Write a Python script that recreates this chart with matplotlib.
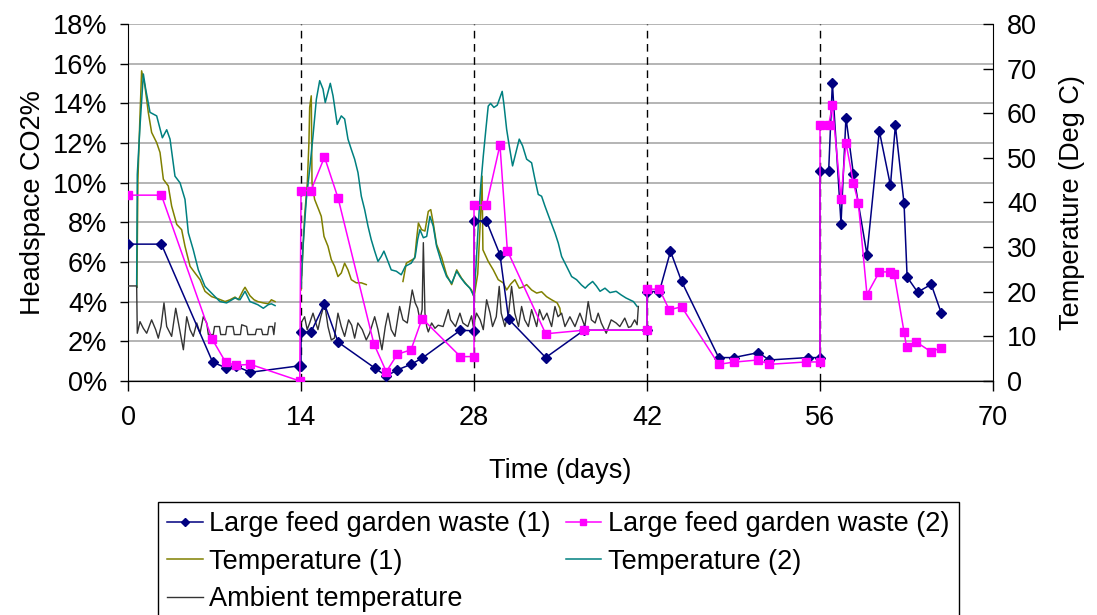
import numpy as np
import matplotlib
matplotlib.use('Agg')
import matplotlib.pyplot as plt

nan = float('nan')

# headspace CO2 (%) for the two large-feed reactors
co2_1_days = [0, 2.7, 6.85, 7.9, 8.7, 9.9, 13.8, 14.0, 14.0, 14.8, 15.9, 17.0, 20.0, 20.9, 21.8, 22.9, 23.8,
              26.9, 28.0, 28.0, 29.0, 30.1, 30.8, 33.8, 36.9, 42.0, 42.0, 43.0, 43.9, 44.8, 47.8, 49.0, 51.0,
              51.9, 55.0, 56.0, 56.0, 56.7, 57.0, 57.7, 58.1, 58.7, 59.8, 60.8, 61.7, 62.1, 62.8, 63.05, 63.9,
              65.0, 65.8]
co2_1 = [6.9, 6.9, 0.95, 0.67, 0.76, 0.44, 0.76, 0.76, 2.46, 2.46, 3.88, 1.96, 0.64, 0.25, 0.56, 0.84, 1.15,
         2.56, 2.53, 8.07, 8.07, 6.37, 3.12, 1.18, 2.56, 2.56, 4.51, 4.51, 6.54, 5.02, 1.18, 1.18, 1.43,
         1.06, 1.18, 1.18, 10.58, 10.58, 15.03, 7.94, 13.28, 10.45, 6.37, 12.6, 9.86, 12.89, 8.96, 5.24, 4.48,
         4.87, 3.45]

co2_2_days = [0, 2.7, 6.8, 7.9, 8.7, 9.9, 13.9, 14.0, 14.8, 15.9, 17.0, 19.9, 20.9, 21.8, 22.9, 23.8,
              26.9, 28.0, 28.0, 29.0, 30.1, 30.7, 33.8, 36.9, 42.0, 42.0, 43.0, 43.8, 44.8, 47.8, 49.0, 51.0,
              51.9, 54.9, 56.0, 56.0, 56.7, 57.0, 57.7, 58.1, 58.7, 59.1, 59.8, 60.8, 61.7, 62.0, 62.8, 63.0,
              63.8, 65.0, 65.8]
co2_2 = [9.37, 9.37, 2.12, 0.95, 0.79, 0.84, 0.0, 9.6, 9.6, 11.29, 9.22, 1.87, 0.47, 1.35, 1.57, 3.15,
         1.23, 1.23, 8.86, 8.86, 11.9, 6.57, 2.38, 2.56, 2.56, 4.63, 4.63, 3.59, 3.74, 0.84, 0.95, 1.06,
         0.84, 0.96, 0.96, 12.89, 12.89, 13.9, 9.2, 12.02, 9.99, 8.98, 4.36, 5.5, 5.5, 5.39, 2.48, 1.73,
         1.96, 1.47, 1.68]

# reactor temperatures (deg C), nan marks a logging gap
temp_1_days = [0.72, 0.80, 0.95, 1.10, 1.37, 1.64, 1.91, 2.32, 2.59, 2.86, 3.26, 3.53, 3.94, 4.34, 4.61,
               5.02, 5.42, 5.83, 6.23, 6.77, 7.31, 7.85, 8.25, 8.66, 8.93, 9.33, 9.47, 9.87, 10.2, 10.5,
               10.95, 11.35, 11.6, 11.9, nan,
               14.0, 14.29, 14.51, 14.64, 14.70, 14.83, 14.89, 15.10, 15.43, 15.64, 15.86, 16.18, 16.45,
               16.72, 16.99, 17.26, 17.53, 17.80, 18.07, 18.47, 18.88, 19.28, nan,
               22.25, 22.52, 23.20, 23.35, 23.50, 23.76, 24.03, 24.30, 24.50, 24.70, 24.97, 25.38, 25.78,
               26.19, 26.60, 27.00, 27.40, 27.80, 28.00, 28.30, 28.55, 28.65, 28.72, 29.15, 29.56, 29.96,
               30.36, 30.64, 30.96, 31.31, 31.66, 32.00, 32.26, 32.66, 33.07, 33.47, 33.87, 34.28, 34.73,
               34.95, 35.00]
temp_1 = [21.0, 45.0, 58.0, 69.5, 66.1, 60.2, 55.7, 53.4, 51.2, 45.2, 43.7, 39.2, 35.1, 33.9, 30.2,
          25.7, 24.2, 22.7, 20.1, 18.9, 18.4, 17.8, 18.2, 18.8, 18.2, 20.4, 21.0, 19.1, 18.2, 17.8,
          17.5, 17.3, 18.2, 17.8, nan,
          20.4, 36.9, 44.4, 53.4, 61.3, 63.9, 44.4, 40.7, 38.4, 36.9, 32.4, 30.2, 27.2,
          25.7, 23.4, 24.2, 26.4, 24.9, 22.7, 22.0, 22.0, 21.6, nan,
          22.3, 26.4, 27.5, 31.7, 35.4, 33.9, 33.6, 38.0, 38.4, 35.4, 30.6, 27.7, 23.8,
          21.6, 24.9, 23.0, 21.6, 20.4, 18.8, 24.0, 38.0, 45.9, 29.4, 26.8, 24.9, 22.7,
          22.0, 20.4, 21.7, 22.7, 20.8, 21.1, 21.6, 20.4, 19.7, 20.0, 18.9, 18.2, 17.5,
          16.3, 15.1]

temp_2_days = [0.70, 0.75, 0.97, 1.24, 1.43, 1.78, 2.32, 2.78, 3.13, 3.40, 3.80, 4.21, 4.61, 4.88, 5.28,
               5.69, 6.23, 6.90, 7.44, 7.98, 8.66, 9.06, 9.47, 9.87, 10.5, 10.95, 11.35, 11.6, 11.9, nan,
               14.0, 14.16, 14.43, 14.70, 14.97, 15.24, 15.51, 15.78, 15.96, 16.37, 16.59, 16.93, 17.26,
               17.53, 17.80, 18.07, 18.34, 18.61, 18.88, 19.15, 19.42, 19.68, 19.96, 20.23, 20.49, 20.71,
               20.98, 21.30, 21.71, 22.11, 22.44, 22.92, 23.24, 23.44, 23.62, 23.90, 24.17, 24.43, 24.70,
               24.97, 25.38, 25.78, 26.19, 26.60, 26.86, 27.27, 27.67, 27.94, 28.0, 28.16, 28.34, 28.54,
               28.75, 28.96, 29.15, 29.34, 29.61, 29.88, 30.15, 30.28, 30.42, 30.64, 30.85, 31.12, 31.39,
               31.66, 31.93, 32.26, 32.66, 32.93, 33.20, 33.47, 33.74, 34.14, 34.55, 34.82, 35.09, 35.49,
               35.90, 36.30, 36.70, 37.00, 37.24, 37.60, 37.90, 38.20, 38.60, 39.00, 39.50, 39.90, 40.30,
               40.90, 41.20]
temp_2 = [21.0, 46.3, 57.1, 68.8, 65.4, 60.2, 59.4, 54.5, 56.3, 54.2, 45.9, 44.4, 40.7, 33.2, 29.4,
          24.9, 21.2, 19.3, 17.8, 17.5, 18.6, 18.2, 20.1, 17.8, 17.1, 16.3, 17.1, 17.3, 16.9, nan,
          21.0, 30.2, 40.7, 47.4, 54.9, 63.1, 67.3, 65.4, 62.4, 66.7, 63.9, 57.5, 59.4,
          58.7, 54.2, 51.9, 49.7, 46.7, 41.4, 38.4, 34.7, 31.7, 29.1, 26.8, 27.9, 29.1,
          27.2, 24.9, 24.6, 23.8, 25.7, 26.4, 27.9, 31.7, 33.9, 32.1, 32.4, 36.9, 34.7,
          30.2, 26.4, 23.4, 21.9, 24.6, 23.4, 21.9, 20.8, 19.3, 18.9, 25.7, 34.7, 43.7,
          50.4, 56.4, 61.6, 62.2, 61.3, 61.8, 63.9, 64.9, 62.0, 56.4, 52.7, 48.2, 51.2,
          54.2, 52.7, 49.7, 48.9, 45.2, 41.8, 41.4, 39.2, 36.2, 33.2, 30.9, 27.9, 25.7,
          23.4, 22.7, 21.5, 20.8, 21.5, 22.3, 21.3, 20.1, 20.8, 19.8, 20.1, 19.3, 18.6,
          17.8, 16.7]

ambient_days = [0.0, 0.70, 0.75, 0.97, 1.24, 1.51, 1.91, 2.24, 2.45, 2.67, 2.91, 3.13, 3.53, 3.86, 4.13,
                4.48, 4.75, 5.02, 5.28, 5.56, 5.83, 6.09, 6.37, 6.5, 6.9, 7.0, 7.4, 7.5, 7.9, 8.0, 8.5,
                8.6, 9.1, 9.2, 9.6, 9.7, 10.3, 10.4, 10.8, 10.9, 11.3, 11.4, 11.7, 11.8, 11.9, nan,
                14.0, 14.29, 14.50, 14.70, 14.97, 15.20, 15.37, 15.60, 15.91, 16.18, 16.45, 16.70, 16.99,
                17.26, 17.53, 17.85, 18.10, 18.34, 18.60, 18.96, 19.28, 19.55, 19.96, 20.23, 20.55, 20.82,
                21.04, 21.30, 21.60, 21.98, 22.25, 22.60, 23.00, 23.24, 23.44, 23.62, 23.80, 23.90, 24.03,
                24.17, 24.30, 24.57, 24.84, 25.10, 25.50, 25.92, 26.10, 26.50, 26.86, 27.10, 27.50, 27.80,
                27.94, 28.20, 28.50, 28.75, 29.02, 29.30, 29.50, 29.80, 30.04, 30.20, 30.50, 30.80, 31.04,
                31.30, 31.60, 31.85, 32.10, 32.40, 32.66, 33.07, 33.30, 33.60, 33.90, 34.28, 34.55, 34.80,
                35.09, 35.36, 35.76, 36.17, 36.57, 36.97, 37.24, 37.50, 37.80, 38.05, 38.30, 38.70, 39.10,
                39.50, 39.80, 40.20, 40.50, 40.70, 41.00, 41.20, 41.30]
ambient = [21.3, 21.3, 10.7, 13.3, 11.8, 10.7, 13.7, 11.5, 9.6, 12.2, 17.5, 12.2, 10.0, 16.3, 12.2,
           7.0, 14.4, 11.5, 10.0, 13.0, 10.7, 14.4, 13.0, 10.4, 10.4, 12.2, 12.2, 10.4, 10.4, 12.2, 12.2,
           10.4, 10.4, 12.6, 12.2, 10.4, 10.4, 11.6, 11.6, 10.4, 10.4, 12.2, 12.2, 10.4, 13.0, nan,
           13.0, 14.4, 11.5, 13.0, 15.2, 13.0, 11.5, 14.4, 17.5, 12.2, 9.2, 9.6, 15.2,
           12.2, 10.0, 13.7, 12.5, 9.6, 13.0, 11.5, 9.2, 10.7, 14.4, 11.5, 7.0, 12.2,
           15.2, 11.5, 10.0, 16.7, 13.7, 13.0, 20.4, 17.5, 16.3, 13.7, 16.0, 31.0, 15.2,
           12.2, 11.0, 13.0, 11.8, 12.5, 12.2, 16.0, 13.7, 12.2, 15.2, 13.0, 12.2, 14.6,
           12.2, 15.2, 13.7, 11.5, 18.2, 15.2, 12.2, 14.4, 21.2, 15.2, 12.2, 15.2, 21.2,
           15.2, 12.2, 16.7, 13.7, 12.2, 16.0, 12.2, 16.0, 13.7, 15.2, 12.2, 16.7, 14.4,
           15.2, 12.2, 14.4, 12.2, 15.2, 12.2, 17.8, 13.7, 13.0, 15.2, 13.0, 10.7, 13.7,
           13.0, 12.2, 14.1, 12.0, 12.2, 13.7, 12.6, 16.7]

feed_days = [14, 28, 42, 56]
x_ticks = [0, 14, 28, 42, 56, 70]

plt.rcParams['font.family'] = ['Liberation Sans', 'DejaVu Sans']
plt.rcParams['font.size'] = 19.5

fig = plt.figure(figsize=(10.97, 6.15), dpi=100)
pos = [0.1167, 0.3805, 0.7885, 0.5805]

# base axis: grid, CO2 scale and feed markers
ax = fig.add_axes(pos)
ax.set_xlim(0, 70)
ax.set_ylim(0, 18)
ax.set_xticks(x_ticks)
ax.set_yticks(np.arange(0, 19, 2))
ax.set_yticklabels([f'{v}%' for v in range(0, 19, 2)])
ax.yaxis.grid(True, color='#a0a0a0', linewidth=1.1)
ax.set_axisbelow(True)
for d in feed_days:
    ax.axvline(d, color='black', linestyle=(0, (5.5, 4)), linewidth=1)
ax.spines['top'].set_visible(False)
ax.spines['right'].set_visible(False)
ax.tick_params(axis='x', direction='out', length=7, width=1, pad=10)
ax.tick_params(axis='y', direction='out', length=6, width=1, pad=9)
ax.set_xlabel('Time (days)', labelpad=20)
ax.set_ylabel('Headspace CO2%', labelpad=5)

# temperatures on the right hand scale
axt = ax.twinx()
axt.set_ylim(0, 80)
axt.set_yticks(np.arange(0, 81, 10))
axt.tick_params(axis='y', direction='in', length=7, width=1, pad=10)
axt.spines['top'].set_visible(False)
axt.spines['left'].set_visible(False)
l_t1, = axt.plot(temp_1_days, temp_1, color='#808000', linewidth=1.1, label='Temperature (1)')
l_t2, = axt.plot(temp_2_days, temp_2, color='#008080', linewidth=1.1, label='Temperature (2)')
l_amb, = axt.plot(ambient_days, ambient, color='#333333', linewidth=1.0, label='Ambient temperature')
axt.set_ylabel('Temperature (Deg C)', labelpad=16)

# CO2 series drawn on top of everything
axc = ax.twinx()
axc.set_ylim(0, 18)
axc.set_yticks([])
for s in axc.spines.values():
    s.set_visible(False)
l_c1, = axc.plot(co2_1_days, co2_1, color='#000080', marker='D', markersize=5, linewidth=1.1,
                 label='Large feed garden waste (1)')
l_c2, = axc.plot(co2_2_days, co2_2, color='#FF00FF', marker='s', markersize=5.5, linewidth=1.1,
                 label='Large feed garden waste (2)')

handles = [l_c1, l_t1, l_amb, l_c2, l_t2]
leg = fig.legend(handles=handles, labels=[h.get_label() for h in handles], ncol=2,
                 loc='upper left', bbox_to_anchor=(158 / 1097, 1 - 502 / 615),
                 frameon=True, fancybox=False, edgecolor='black', framealpha=1,
                 borderaxespad=0, borderpad=0.35, handlelength=1.3, handletextpad=0.25,
                 columnspacing=0.55, labelspacing=0.42, numpoints=1, markerscale=0.8)
leg.get_frame().set_linewidth(1)

fig.savefig('out.png', dpi=100)
